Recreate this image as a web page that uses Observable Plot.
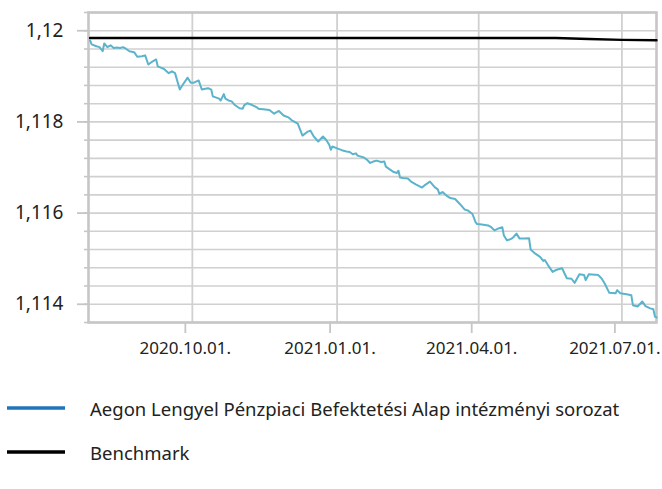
<!DOCTYPE html>
<html>
<head>
<meta charset="utf-8">
<script src="https://cdn.jsdelivr.net/npm/d3@7"></script>
<script src="https://cdn.jsdelivr.net/npm/@observablehq/plot@0.6"></script>
<style>
  html, body { margin: 0; padding: 0; background: #fff; }
  body { width: 662px; height: 489px; overflow: hidden; font-family: "Noto Sans", sans-serif; color: #222; }
  #chart { position: absolute; left: 0; top: 0; }
  .legend-row { position: absolute; left: 0; height: 30px; display: flex; align-items: center; font-size: 18.5px; white-space: nowrap; }
  .legend-row svg { margin-left: 7px; margin-right: 25px; }
</style>
</head>
<body>
<div id="chart"></div>
<div class="legend-row" id="lg1" style="top:393px"></div>
<div class="legend-row" id="lg2" style="top:437px"></div>
<script>
// ---- data ----
const fundDates = [
  "2020-07-28","2020-07-29","2020-08-01","2020-08-03","2020-08-05","2020-08-06","2020-08-08","2020-08-10","2020-08-12","2020-08-14",
  "2020-08-16","2020-08-18","2020-08-20","2020-08-22","2020-08-25","2020-08-27","2020-08-30","2020-09-01","2020-09-03","2020-09-05",
  "2020-09-08","2020-09-09","2020-09-11","2020-09-13","2020-09-16","2020-09-18","2020-09-20","2020-09-23","2020-09-25","2020-09-28",
  "2020-09-30","2020-10-02","2020-10-05","2020-10-07","2020-10-11","2020-10-13","2020-10-14","2020-10-18","2020-10-19","2020-10-21",
  "2020-10-22","2020-10-24","2020-10-26","2020-10-28","2020-10-31","2020-11-02","2020-11-03","2020-11-05","2020-11-08","2020-11-11",
  "2020-11-12","2020-11-15","2020-11-19","2020-11-22","2020-11-25","2020-11-28","2020-12-01","2020-12-03","2020-12-07","2020-12-10",
  "2020-12-13","2020-12-15","2020-12-17","2020-12-20","2020-12-23","2020-12-25","2020-12-27","2020-12-28","2020-12-29","2021-01-01",
  "2021-01-04","2021-01-07","2021-01-09","2021-01-11","2021-01-13","2021-01-14","2021-01-18","2021-01-20","2021-01-22","2021-01-24",
  "2021-01-26","2021-01-29","2021-01-31","2021-02-01","2021-02-03","2021-02-06","2021-02-08","2021-02-09","2021-02-10","2021-02-12",
  "2021-02-15","2021-02-17","2021-02-20","2021-02-24","2021-02-26","2021-03-01","2021-03-02","2021-03-04","2021-03-06","2021-03-07",
  "2021-03-09","2021-03-12","2021-03-14","2021-03-17","2021-03-20","2021-03-23","2021-03-25","2021-03-28","2021-03-30","2021-03-31",
  "2021-04-03","2021-04-07","2021-04-09","2021-04-11","2021-04-14","2021-04-16","2021-04-17","2021-04-19","2021-04-22","2021-04-23",
  "2021-04-25","2021-04-27","2021-04-30","2021-05-03","2021-05-04","2021-05-07","2021-05-10","2021-05-12","2021-05-13","2021-05-15",
  "2021-05-18","2021-05-20","2021-05-24","2021-05-27","2021-05-30","2021-06-01","2021-06-04","2021-06-07","2021-06-08","2021-06-10",
  "2021-06-14","2021-06-16","2021-06-18","2021-06-20","2021-06-23","2021-06-27","2021-06-28","2021-06-30","2021-07-04","2021-07-07",
  "2021-07-08","2021-07-11","2021-07-14","2021-07-16","2021-07-19","2021-07-21","2021-07-22","2021-07-23"
];
const fundValues = [
  1.11979,1.11970,1.11966,1.11964,1.11955,1.11972,1.11964,1.11968,1.11962,1.11963,
  1.11962,1.11964,1.11960,1.11955,1.11953,1.11943,1.11944,1.11946,1.11926,1.11931,
  1.11937,1.11922,1.11919,1.11916,1.11907,1.11911,1.11907,1.11871,1.11882,1.11897,
  1.11886,1.11886,1.11891,1.11871,1.11874,1.11871,1.11856,1.11851,1.11847,1.11861,
  1.11851,1.11847,1.11845,1.11837,1.11830,1.11829,1.11837,1.11841,1.11837,1.11832,
  1.11829,1.11828,1.11826,1.11818,1.11824,1.11814,1.11810,1.11804,1.11796,1.11770,
  1.11778,1.11781,1.11769,1.11757,1.11768,1.11761,1.11750,1.11739,1.11746,1.11742,
  1.11738,1.11735,1.11734,1.11729,1.11731,1.11726,1.11722,1.11717,1.11710,1.11713,
  1.11715,1.11712,1.11713,1.11702,1.11697,1.11690,1.11688,1.11693,1.11678,1.11677,
  1.11676,1.11669,1.11663,1.11656,1.11662,1.11669,1.11665,1.11657,1.11652,1.11642,
  1.11646,1.11637,1.11633,1.11631,1.11620,1.11608,1.11606,1.11598,1.11580,1.11576,
  1.11575,1.11573,1.11569,1.11562,1.11567,1.11569,1.11551,1.11540,1.11544,1.11547,
  1.11555,1.11544,1.11544,1.11545,1.11520,1.11511,1.11504,1.11495,1.11497,1.11486,
  1.11471,1.11475,1.11479,1.11457,1.11456,1.11447,1.11466,1.11464,1.11453,1.11466,
  1.11465,1.11464,1.11457,1.11446,1.11425,1.11424,1.11431,1.11424,1.11422,1.11420,
  1.11398,1.11395,1.11406,1.11396,1.11391,1.11389,1.11373,1.11371
];
const benchDates = ["2020-07-28","2021-05-20","2021-06-10","2021-07-01","2021-07-23"];
const benchValues = [1.11984,1.11984,1.11982,1.11980,1.11979];

const xDomain = ["2020-07-27","2021-07-23"];
const xTicks = ["2020-10-01","2021-01-01","2021-04-01","2021-07-01"];
const yDomain = [1.1136, 1.1204];
const yTicks = [1.114, 1.116, 1.118, 1.12];
const yGrid = [1.1136,1.114,1.1144,1.1148,1.1152,1.1156,1.116,1.1164,1.1168,1.1172,1.1176,1.118,1.1184,1.1188,1.1192,1.1196,1.12,1.1204];

const seriesNames = ["Aegon Lengyel Pénzpiaci Befektetési Alap intézményi sorozat", "Benchmark"];
const legendColors = ["#1f75bb", "#000000"];

// ---- build ----
const parse = d3.utcParse("%Y-%m-%d");
const fund = fundDates.map((d, i) => ({date: parse(d), value: fundValues[i]}));
const bench = benchDates.map((d, i) => ({date: parse(d), value: benchValues[i]}));
const xTickDates = xTicks.map(parse);
const fmtY = d => d3.format(".3~f")(d).replace(".", ",");
const fmtX = d3.utcFormat("%Y.%m.%d.");
const gridColor = "#d0d0d0";
const axisColor = "#c6c6c6";

const chart = Plot.plot({
  width: 662,
  height: 370,
  marginLeft: 88,
  marginRight: 6,
  marginTop: 12,
  marginBottom: 48,
  style: {fontFamily: "Noto Sans", fontSize: "17px", color: "#222", background: "#fff"},
  x: {type: "utc", domain: xDomain.map(parse), label: null},
  y: {domain: yDomain, label: null},
  marks: [
    Plot.ruleY(yGrid, {stroke: gridColor, strokeWidth: 1.6}),
    Plot.ruleX(xTickDates, {stroke: gridColor, strokeWidth: 1.8}),
    Plot.axisY({ticks: yGrid, tickSize: 4, tickFormat: () => "", stroke: axisColor, strokeWidth: 1.6, label: null}),
    Plot.axisY({ticks: yTicks, tickSize: 11, tickPadding: 14, tickFormat: fmtY, fontSize: 19, fill: "#222", stroke: axisColor, strokeWidth: 1.8, label: null}),
    Plot.axisX({ticks: xTickDates, tickSize: 11, tickPadding: 8, tickFormat: fmtX, fontSize: 17, fill: "#222", dx: -7, stroke: axisColor, strokeWidth: 1.8, label: null}),
    Plot.frame({stroke: axisColor, strokeWidth: 2.6}),
    Plot.line(bench, {x: "date", y: "value", stroke: "#000", strokeWidth: 2.4}),
    Plot.line(fund, {x: "date", y: "value", stroke: "#5bb4cb", strokeWidth: 2})
  ]
});
document.getElementById("chart").appendChild(chart);

// ---- legend ----
["lg1", "lg2"].forEach((id, i) => {
  const row = document.getElementById(id);
  row.innerHTML = `<svg width="58" height="6"><line x1="0" x2="58" y1="3" y2="3" stroke="${legendColors[i]}" stroke-width="3.5"/></svg><span>${seriesNames[i]}</span>`;
});
</script>
</body>
</html>
